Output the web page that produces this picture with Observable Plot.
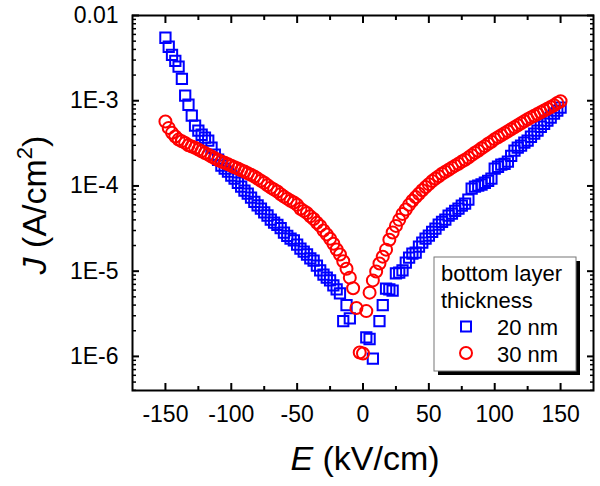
<!DOCTYPE html>
<html><head><meta charset="utf-8">
<script src="https://cdn.jsdelivr.net/npm/d3@7"></script>
<script src="https://cdn.jsdelivr.net/npm/@observablehq/plot@0.6"></script>
<style>body{margin:0;background:#fff} svg{display:block}</style>
</head><body><div id="chart"></div>
<script>
// ---- data ----
const eRed = [-150,-147.5,-145,-142.5,-140,-137.5,-135,-132.5,-130,-127.5,-125,-122.5,-120,-117.5,-115,-112.5,-110,-107.5,-105,-102.5,-100,-97.5,-95,-92.5,-90,-87.5,-85,-82.5,-80,-77.5,-75,-72.5,-70,-67.5,-65,-62.5,-60,-57.5,-55,-52.5,-50,-47.5,-45,-42.5,-40,-37.5,-35,-32.5,-30,-27.5,-25,-22.5,-20,-17.5,-15,-12.5,-10,-7.5,-5,-2.5,0,2.5,5,7.5,10,12.5,15,17.5,20,22.5,25,27.5,30,32.5,35,37.5,40,42.5,45,47.5,50,52.5,55,57.5,60,62.5,65,67.5,70,72.5,75,77.5,80,82.5,85,87.5,90,92.5,95,97.5,100,102.5,105,107.5,110,112.5,115,117.5,120,122.5,125,127.5,130,132.5,135,137.5,140,142.5,145,147.5,150];
const jRed = [5.7e-4,4.8e-4,4.2e-4,3.8e-4,3.5e-4,3.35e-4,3.2e-4,3.0e-4,2.9e-4,2.8e-4,2.67e-4,2.55e-4,2.44e-4,2.33e-4,2.22e-4,2.11e-4,2.02e-4,1.94e-4,1.87e-4,1.80e-4,1.73e-4,1.66e-4,1.60e-4,1.53e-4,1.48e-4,1.41e-4,1.35e-4,1.29e-4,1.22e-4,1.15e-4,1.09e-4,1.02e-4,9.55e-5,9.06e-5,8.6e-5,8.0e-5,7.5e-5,7.1e-5,6.7e-5,6.4e-5,6.0e-5,5.4e-5,5.1e-5,4.8e-5,4.4e-5,4.1e-5,3.7e-5,3.4e-5,3.0e-5,2.7e-5,2.4e-5,2.1e-5,1.8e-5,1.57e-5,1.31e-5,1.07e-5,8.4e-6,6.3e-6,3.7e-6,1.11e-6,1.08e-6,3.4e-6,5.6e-6,7.8e-6,9.9e-6,1.23e-5,1.48e-5,1.79e-5,2.34e-5,2.84e-5,3.4e-5,4.0e-5,4.7e-5,5.3e-5,6.0e-5,6.7e-5,7.4e-5,8.1e-5,8.9e-5,9.7e-5,1.05e-4,1.14e-4,1.22e-4,1.30e-4,1.39e-4,1.47e-4,1.55e-4,1.64e-4,1.73e-4,1.82e-4,1.93e-4,2.03e-4,2.15e-4,2.30e-4,2.45e-4,2.59e-4,2.77e-4,2.93e-4,3.13e-4,3.30e-4,3.54e-4,3.73e-4,3.94e-4,4.16e-4,4.39e-4,4.63e-4,4.89e-4,5.16e-4,5.45e-4,5.75e-4,6.07e-4,6.37e-4,6.67e-4,7.0e-4,7.33e-4,7.69e-4,8.05e-4,8.45e-4,8.85e-4,9.4e-4,9.86e-4];
const eBlue = [-150,-147.5,-145,-142.5,-140,-137.5,-135,-132.5,-130,-127.5,-125,-122.5,-120,-117.5,-115,-112.5,-110,-107.5,-105,-102.5,-100,-97.5,-95,-92.5,-90,-87.5,-85,-82.5,-80,-77.5,-75,-72.5,-70,-67.5,-65,-62.5,-60,-57.5,-55,-52.5,-50,-47.5,-45,-42.5,-40,-37.5,-35,-32.5,-30,-27.5,-25,-22.5,-20,-17.5,-15,-12.5,-10,2.5,5,7.5,12.5,15,17.5,20,22.5,25,27.5,30,32.5,35,37.5,40,42.5,45,47.5,50,52.5,55,57.5,60,62.5,65,67.5,70,72.5,75,77.5,80,82.5,85,87.5,90,92.5,95,97.5,100,102.5,105,107.5,110,112.5,115,117.5,120,122.5,125,127.5,130,132.5,135,137.5,140,142.5,145,147.5,150];
const jBlue = [5.48e-3,4.30e-3,3.46e-3,2.94e-3,2.51e-3,1.81e-3,1.15e-3,8.97e-4,6.67e-4,5.09e-4,4.45e-4,3.99e-4,3.68e-4,3.40e-4,2.81e-4,2.33e-4,2.03e-4,1.73e-4,1.60e-4,1.47e-4,1.32e-4,1.22e-4,1.09e-4,9.8e-5,8.8e-5,8.13e-5,7.3e-5,6.5e-5,5.9e-5,5.42e-5,4.9e-5,4.5e-5,4.03e-5,3.72e-5,3.5e-5,3.2e-5,2.84e-5,2.6e-5,2.41e-5,2.3e-5,2.05e-5,1.84e-5,1.70e-5,1.57e-5,1.41e-5,1.33e-5,1.16e-5,1.02e-5,9.1e-6,8.4e-6,7.8e-6,6.8e-6,6.1e-6,5.5e-6,2.6e-6,4.0e-6,2.8e-6,1.67e-6,1.6e-6,9.4e-7,2.6e-6,4.0e-6,6.25e-6,6.1e-6,5.9e-6,9.4e-6,9.6e-6,1.02e-5,1.26e-5,1.44e-5,1.61e-5,1.65e-5,1.94e-5,2.16e-5,2.41e-5,2.61e-5,2.9e-5,3.16e-5,3.52e-5,3.8e-5,4.03e-5,4.49e-5,4.73e-5,5.1e-5,5.42e-5,5.87e-5,6.2e-5,6.9e-5,9.3e-5,9.8e-5,1.01e-4,1.04e-4,1.09e-4,1.15e-4,1.22e-4,1.60e-4,1.68e-4,1.78e-4,1.82e-4,1.93e-4,2.26e-4,2.59e-4,2.81e-4,2.97e-4,3.22e-4,3.40e-4,3.78e-4,4.10e-4,4.45e-4,4.95e-4,5.37e-4,5.83e-4,6.32e-4,7.05e-4,7.64e-4,8.28e-4];

const xMajor = [-150, -100, -50, 0, 50, 100, 150];
const xMinor = [-125, -75, -25, 25, 75, 125];
const xTickLabels = ["-150", "-100", "-50", "0", "50", "100", "150"];
const yMajor = [1e-2, 1e-3, 1e-4, 1e-5, 1e-6];
const yTickLabels = ["0.01", "1E-3", "1E-4", "1E-5", "1E-6"];
const seriesNames = ["20 nm", "30 nm"];
const legendTitle = ["bottom layer", "thickness"];
const xTitle = ["E", " (kV/cm)"];
const yTitle = ["J", " (A/cm", "2", ")"];

const BLUE = "#0000ff", RED = "#ff0000";
const FONT = "'Liberation Sans', Arial, Helvetica, sans-serif";

const blue = eBlue.map((E, i) => ({E, J: jBlue[i]}));
const red = eRed.map((E, i) => ({E, J: jRed[i]}));
const yDomain = [Math.pow(10, -6.4), 1e-2];
const yMinor = d3.scaleLog().domain(yDomain).ticks()
  .filter(v => !yMajor.some(m => Math.abs(m - v) / m < 1e-9));

const tk = {fill: "none", label: null, stroke: "black"};

const plot = Plot.plot({
  width: 600, height: 486,
  marginTop: 15, marginRight: 7, marginBottom: 96, marginLeft: 132,
  style: {fontFamily: FONT, fontSize: "23px", color: "black", background: "white"},
  x: {domain: [-175, 175]},
  y: {type: "log", domain: yDomain},
  marks: [
    // inward ticks on all four sides
    Plot.axisX({anchor: "bottom", ticks: xMajor, tickSize: -7, strokeWidth: 2, ...tk}),
    Plot.axisX({anchor: "bottom", ticks: xMinor, tickSize: -4, strokeWidth: 2, ...tk}),
    Plot.axisX({anchor: "top", ticks: xMajor, tickSize: -7, strokeWidth: 2, ...tk}),
    Plot.axisX({anchor: "top", ticks: xMinor, tickSize: -4, strokeWidth: 2, ...tk}),
    Plot.axisY({anchor: "left", ticks: yMajor, tickSize: -7, strokeWidth: 2, ...tk}),
    Plot.axisY({anchor: "left", ticks: yMinor, tickSize: -4, strokeWidth: 1.5, ...tk}),
    Plot.axisY({anchor: "right", ticks: yMajor, tickSize: -7, strokeWidth: 2, ...tk}),
    Plot.axisY({anchor: "right", ticks: yMinor, tickSize: -4, strokeWidth: 1.5, ...tk}),
    // tick labels
    Plot.axisX({anchor: "bottom", ticks: xMajor, tickSize: 0, tickPadding: 15, fontSize: 23,
      tickFormat: d => xTickLabels[xMajor.indexOf(d)], label: null}),
    Plot.axisY({anchor: "left", ticks: yMajor, tickSize: 0, tickPadding: 14, fontSize: 23,
      tickFormat: d => yTickLabels[yMajor.indexOf(d)], label: null}),
    Plot.frame({stroke: "black", strokeWidth: 2}),
    Plot.dot(blue, {x: "E", y: "J", symbol: "square", r: 5.8, stroke: BLUE, strokeWidth: 2, fill: "none"}),
    Plot.dot(red, {x: "E", y: "J", symbol: "circle", r: 6, stroke: RED, strokeWidth: 2, fill: "none"})
  ]
});
document.getElementById("chart").appendChild(plot);

// ---- axis titles ----
const svg = d3.select(plot);
const xt = svg.append("text").attr("x", 365).attr("y", 470).attr("text-anchor", "middle")
  .attr("font-size", 34).attr("font-family", FONT).attr("fill", "black");
xt.append("tspan").attr("font-style", "italic").text(xTitle[0]);
xt.append("tspan").text(xTitle[1]);

const yt = svg.append("text").attr("transform", "translate(46,205) rotate(-90)")
  .attr("text-anchor", "middle").attr("font-size", 34).attr("font-family", FONT).attr("fill", "black");
yt.append("tspan").attr("font-style", "italic").text(yTitle[0]);
yt.append("tspan").text(yTitle[1]);
yt.append("tspan").attr("font-size", 22).attr("dy", -14).text(yTitle[2]);
yt.append("tspan").attr("dy", 14).text(yTitle[3]);

// ---- legend ----
const lg = svg.append("g").attr("font-family", FONT).attr("font-size", 22)
  .attr("fill", "black").attr("text-anchor", "start");
lg.append("rect").attr("x", 438).attr("y", 261).attr("width", 142).attr("height", 114).attr("fill", "black");
lg.append("rect").attr("x", 434).attr("y", 257).attr("width", 142).attr("height", 114)
  .attr("fill", "white").attr("stroke", "#777").attr("stroke-width", 1);
lg.append("text").attr("x", 441).attr("y", 281).text(legendTitle[0]);
lg.append("text").attr("x", 441).attr("y", 308).text(legendTitle[1]);
lg.append("rect").attr("x", 461).attr("y", 321.5).attr("width", 10).attr("height", 10)
  .attr("fill", "none").attr("stroke", BLUE).attr("stroke-width", 2);
lg.append("text").attr("x", 497).attr("y", 335).text(seriesNames[0]);
lg.append("circle").attr("cx", 466).attr("cy", 353).attr("r", 6)
  .attr("fill", "none").attr("stroke", RED).attr("stroke-width", 2);
lg.append("text").attr("x", 497).attr("y", 362).text(seriesNames[1]);
</script>
</body></html>
